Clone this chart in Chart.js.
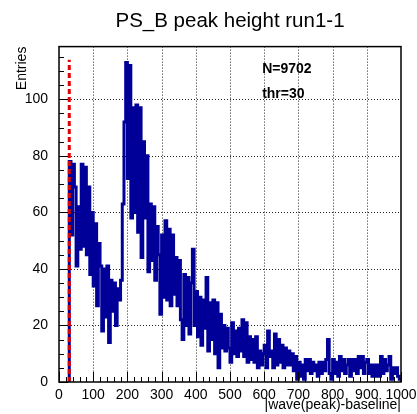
<!DOCTYPE html>
<html>
<head>
<meta charset="utf-8">
<script src="https://cdn.jsdelivr.net/npm/chart.js@4.4.1/dist/chart.umd.min.js"></script>
<style>
  html, body { margin: 0; padding: 0; background: #ffffff; }
  #wrap { position: relative; width: 417px; height: 414px; }
</style>
</head>
<body>
<div id="wrap"><canvas id="c"></canvas></div>
<script>
// Peak-height histogram: 5-unit bins starting at the threshold
const binStart = 30;
const binWidth = 5;
const counts = [
  78, 52, 77, 69, 41, 62, 47, 77, 48, 76,   // 30-75
  45, 69, 38, 60, 34, 56, 27, 49, 41, 18,   // 80-125
  40, 23, 41, 14, 36, 25, 35, 20, 33, 29,   // 130-175
  36, 63, 92, 113, 72, 112, 58, 97, 60, 98, // 180-225
  53, 97, 44, 85, 58, 80, 39, 63, 43, 62,   // 230-275
  36, 55, 45, 24, 52, 30, 57, 29, 54, 27,   // 280-325
  52, 31, 44, 27, 43, 22, 15, 38, 20, 37,   // 330-375
  17, 35, 47, 20, 32, 16, 30, 13, 29, 19,   // 380-425
  37, 11, 28, 15, 29, 10, 28, 5, 24, 12,    // 430-475
  20, 11, 19, 12, 7, 21, 10, 18, 9, 19,     // 480-525
  11, 22, 9, 21, 7, 16, 8, 15, 7, 16,       // 530-575
  5, 11, 6, 10, 13, 5, 18, 9, 11, 5,        // 580-625
  17, 6, 15, 7, 13, 5, 12, 6, 11, 6,        // 630-675
  10, 4, 9, 1, 7, 2, 6, 1, 8, 4,            // 680-725
  8, 3, 7, 4, 6, 2, 7, 3, 7, 4,             // 730-775
  8, 15, 3, 1, 8, 3, 7, 2, 9, 4,            // 780-825
  8, 3, 6, 8, 2, 8, 4, 8, 3, 9,             // 830-875
  5, 9, 3, 7, 8, 3, 6, 2, 6, 2,             // 880-925
  6, 2, 9, 3, 8, 4, 6, 9, 1, 5,             // 930-975
  3, 5, 2, 1                                // 980-995
];

// Threshold marker and statistics
const threshold = 30;
const thresholdLineTop = 114;
const entries = 9702;

// Axes
const xRange = [0, 1000];
const yRange = [0, 118.65];
const xTickValues = [0, 100, 200, 300, 400, 500, 600, 700, 800, 900, 1000];
const yTickValues = [0, 20, 40, 60, 80, 100];
const xMinorStep = 20;
const yMinorStep = 5;

const titleText = 'PS_B peak height run1-1';
const xTitle = '|wave(peak)-baseline|';
const yTitle = 'Entries';

const FONT = "'Liberation Sans', Arial, Helvetica, sans-serif";
Chart.defaults.font.family = FONT;
Chart.defaults.color = '#000000';

// Step outline points: rise at the first edge, hold each bin, close at the last edge
const histPoints = [{ x: binStart, y: 0 }];
counts.forEach((c, i) => histPoints.push({ x: binStart + i * binWidth, y: c }));
histPoints.push({ x: binStart + counts.length * binWidth, y: counts[counts.length - 1] });

const thresholdPoints = [{ x: threshold, y: 0 }, { x: threshold, y: thresholdLineTop }];

// Dotted grid, frame and inward-pointing ticks
const frameAndGrid = {
  id: 'frameAndGrid',
  beforeDatasetsDraw(chart) {
    const { ctx, chartArea: a, scales: { x, y } } = chart;
    ctx.save();
    ctx.strokeStyle = '#222222';
    ctx.lineWidth = 1;
    ctx.setLineDash([1, 2]);
    xTickValues.slice(1, -1).forEach(v => {
      const px = Math.round(x.getPixelForValue(v)) + 0.5;
      ctx.beginPath(); ctx.moveTo(px, a.top); ctx.lineTo(px, a.bottom); ctx.stroke();
    });
    yTickValues.slice(1).forEach(v => {
      const py = Math.round(y.getPixelForValue(v)) + 0.5;
      ctx.beginPath(); ctx.moveTo(a.left, py); ctx.lineTo(a.right, py); ctx.stroke();
    });
    ctx.restore();
  },
  afterDatasetsDraw(chart) {
    const { ctx, chartArea: a, scales: { x, y } } = chart;
    ctx.save();
    ctx.strokeStyle = '#000000';
    ctx.lineWidth = 1;
    // x ticks
    for (let v = xRange[0]; v <= xRange[1]; v += xMinorStep) {
      const px = Math.round(x.getPixelForValue(v)) + 0.5;
      const len = (v % 100 === 0) ? 10 : 5;
      ctx.beginPath(); ctx.moveTo(px, a.bottom); ctx.lineTo(px, a.bottom - len); ctx.stroke();
    }
    // y ticks
    for (let v = yRange[0]; v <= yRange[1]; v += yMinorStep) {
      const py = Math.round(y.getPixelForValue(v)) + 0.5;
      const len = (v % 20 === 0) ? 9 : 5;
      ctx.beginPath(); ctx.moveTo(a.left, py); ctx.lineTo(a.left + len, py); ctx.stroke();
    }
    ctx.lineWidth = 1.5;
    ctx.strokeRect(a.left, a.top, a.right - a.left, a.bottom - a.top);
    ctx.restore();
  },
  afterDraw(chart) {
    const { ctx, scales: { x, y } } = chart;
    ctx.save();
    ctx.fillStyle = '#000000';
    ctx.font = 'bold 14px ' + FONT;
    ctx.textAlign = 'left';
    ctx.textBaseline = 'alphabetic';
    ctx.fillText('N=' + entries, x.getPixelForValue(594), y.getPixelForValue(109.2));
    ctx.fillText('thr=' + threshold, x.getPixelForValue(594), y.getPixelForValue(100.4));
    ctx.restore();
  }
};

new Chart(document.getElementById('c'), {
  type: 'line',
  data: {
    datasets: [
      {
        data: thresholdPoints,
        borderColor: '#e00000',
        borderWidth: 3,
        borderDash: [5, 3],
        pointRadius: 0,
        order: 0
      },
      {
        data: histPoints,
        borderColor: '#000099',
        borderWidth: 3,
        stepped: true,
        pointRadius: 0,
        fill: false,
        order: 1
      }
    ]
  },
  options: {
    responsive: true,
    maintainAspectRatio: false,
    animation: false,
    devicePixelRatio: 1,
    layout: { padding: { left: 0, right: 16, top: 0, bottom: 0 } },
    plugins: {
      legend: { display: false },
      tooltip: { enabled: false },
      title: {
        display: true,
        text: titleText,
        fullSize: false,
        color: '#000000',
        font: { size: 20.5, weight: 'normal' },
        padding: { top: 9, bottom: 13 }
      }
    },
    scales: {
      x: {
        type: 'linear',
        min: xRange[0],
        max: xRange[1],
        afterBuildTicks: s => { s.ticks = xTickValues.map(v => ({ value: v })); },
        afterFit: s => { s.height = 32; },
        grid: { display: false },
        border: { display: false },
        ticks: {
          font: { size: 14 },
          color: '#000000',
          padding: -3,
          maxRotation: 0,
          autoSkip: false,
          callback: v => String(v)
        },
        title: {
          display: true,
          text: xTitle,
          align: 'end',
          color: '#000000',
          font: { size: 14 },
          padding: { top: 0, bottom: 0 }
        }
      },
      y: {
        type: 'linear',
        min: yRange[0],
        max: yRange[1],
        afterBuildTicks: s => { s.ticks = yTickValues.map(v => ({ value: v })); },
        afterFit: s => { s.width = 59; },
        grid: { display: false },
        border: { display: false },
        ticks: {
          font: { size: 14 },
          color: '#000000',
          padding: 3,
          callback: v => String(v)
        },
        title: {
          display: true,
          text: yTitle,
          align: 'end',
          color: '#000000',
          font: { size: 14 },
          padding: { top: 14, bottom: 0 }
        }
      }
    }
  },
  plugins: [frameAndGrid]
});
</script>
</body>
</html>
